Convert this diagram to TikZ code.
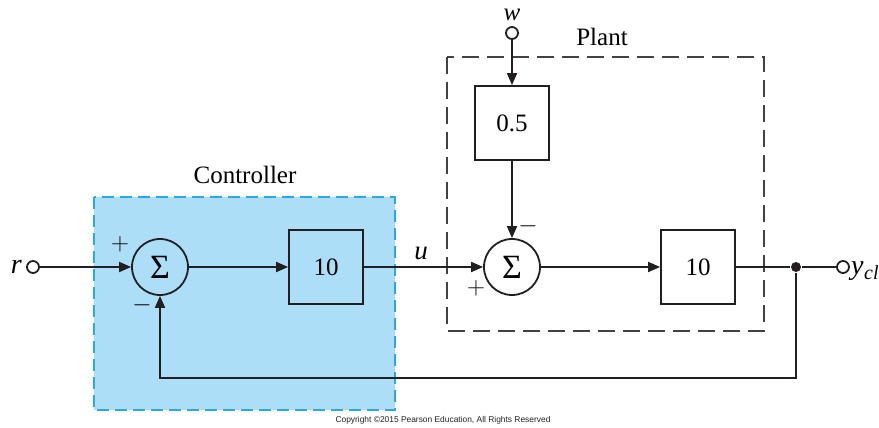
\documentclass[tikz,border=0pt]{standalone}
\usepackage{fontspec}
\setmainfont{Liberation Serif}
\newfontfamily\copyfont{Liberation Sans}
\usetikzlibrary{arrows.meta}
\definecolor{ctrlfill}{HTML}{ACDFF7}
\definecolor{ctrlline}{HTML}{2AA8E0}
\definecolor{linec}{HTML}{231F20}
\begin{document}
\begin{tikzpicture}[x=1pt,y=-1pt,
  line width=1.8pt,
  conn/.style={draw=linec,line width=1.8pt},
  arr/.style={conn,-{Triangle[length=12pt,width=10pt]}},
  sumnode/.style={circle,draw=linec,line width=1.8pt,minimum size=56pt,inner sep=0pt,font=\fontsize{34}{34}\selectfont},
  gain/.style={rectangle,draw=linec,line width=1.8pt,minimum width=74pt,minimum height=74pt,inner sep=0pt,font=\fontsize{25}{25}\selectfont},
  port/.style={circle,draw=linec,line width=1.8pt,fill=white,minimum size=12pt,inner sep=0pt},
  lbl/.style={font=\fontsize{25}{25}\selectfont},
  sgn/.style={font=\fontsize{28}{28}\selectfont,inner sep=0pt},
  dot/.style={circle,fill=linec,minimum size=10pt,inner sep=0pt}]
\useasboundingbox (0,0) rectangle (879,428);
% controller region
\path[fill=ctrlfill,draw=ctrlline,line width=1.8pt,dash pattern=on 12pt off 6pt] (94,197) rectangle (395,410);
\node[lbl] (ctrllbl) at (245,175) {Controller};
% plant region
\draw[draw=linec!85,line width=1.8pt,dash pattern=on 17pt off 8pt] (447,57) rectangle (764,331);
\node[lbl] (plantlbl) at (602,37) {Plant};
% nodes
\node[port] (r) at (33,267) {};
\node[lbl,anchor=east,font=\fontsize{28}{28}\selectfont] (rl) at (26,267) {\itshape r};
\node[sumnode] (s1) at (160,267) {Σ};
\node[gain] (k1) at (326,267) {10};
\node[port] (w) at (512,33) {};
\node[lbl,font=\fontsize{25}{25}\selectfont,inner sep=0pt] (wl) at (512,15) {\itshape w};
\node[gain] (k05) at (512,123) {0.5};
\node[sumnode] (s2) at (512,267) {Σ};
\node[gain] (k2) at (698,267) {10};
\node[dot] (jn) at (796,267) {};
\node[port] (y) at (843,267) {};
\node[lbl,anchor=west,font=\fontsize{28}{28}\selectfont] (yl) at (847,271) {\itshape y\kern0.5pt\raisebox{-5pt}{\fontsize{20}{20}\selectfont cl}};
\node[lbl,font=\fontsize{27}{27}\selectfont] (ul) at (421,253) {\itshape u};
% signs
\node[sgn] (p1) at (120,244) {$+$};
\node[sgn] (m1) at (142,305) {$-$};
\node[sgn] (m2) at (528,226) {$-$};
\node[sgn] (p2) at (476,288) {$+$};
% connectors
\draw[arr] (r) -- (s1);
\draw[arr] (s1) -- (k1);
\draw[arr] (k1) -- (s2);
\draw[arr] (w) -- (k05);
\draw[arr] (k05) -- (s2);
\draw[arr] (s2) -- (k2);
\draw[conn] (k2) -- (jn);
\draw[conn] (jn) -- (y);
\coordinate (fb1) at (796,378);
\coordinate (fb2) at (160,378);
\draw[arr] (jn) -- (fb1) -- (fb2) -- (s1);
% copyright
\node[font=\copyfont\fontsize{8.4}{8.4}\selectfont,text=linec] (cp) at (443,420) {Copyright \textcopyright2015 Pearson Education, All Rights Reserved};
\end{tikzpicture}
\end{document}
